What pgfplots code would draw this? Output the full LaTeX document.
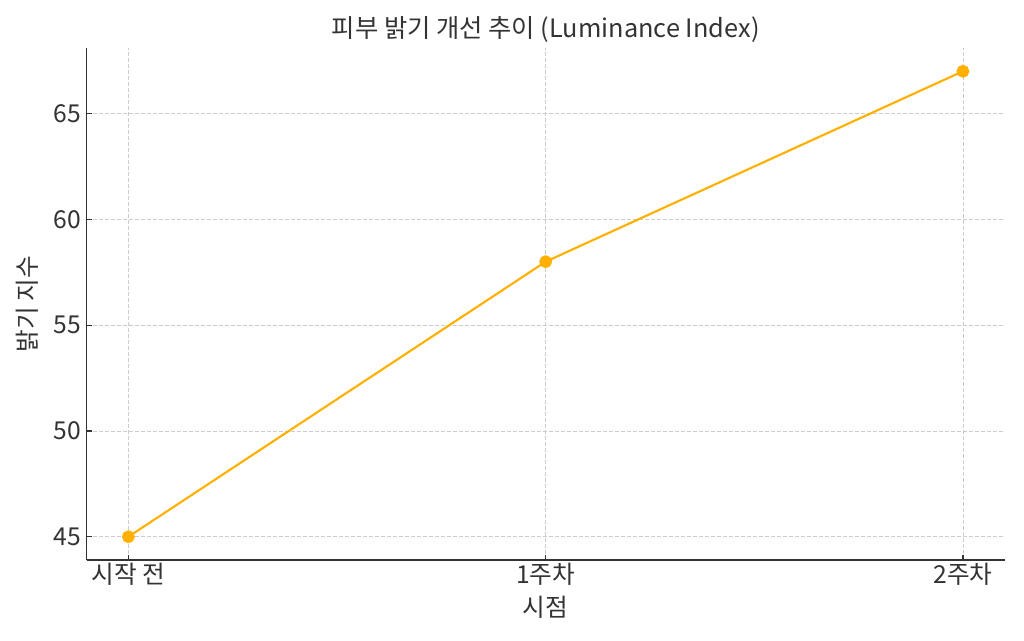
\documentclass[border=0pt]{standalone}
\usepackage{fontspec}
\setmainfont{Noto Sans CJK KR}
\usepackage{pgfplots}
\pgfplotsset{compat=1.18}
\definecolor{lineor}{HTML}{FFB000}
\definecolor{txt}{HTML}{333333}
\definecolor{gridc}{HTML}{CCCCCC}
\newcommand{\fs}{\fontsize{18.5}{22}\selectfont}
\begin{document}
\begin{tikzpicture}
\path[use as bounding box] (-65pt,-60pt) rectangle (703pt,420pt);
\begin{axis}[at={(0,0)}, anchor=south west, scale only axis,
  width=688.5pt, height=384pt,
  xmin=-0.1, xmax=2.1, ymin=43.9, ymax=68.1,
  xtick={0,1,2}, xticklabels={시작 전,1주차,2주차},
  ytick={45,50,55,60,65},
  axis x line*=bottom, axis y line*=left,
  axis line style={-, draw=txt, line width=1.1pt},
  tick align=inside, major tick length=4pt,
  tick style={draw=txt, line width=0.9pt},
  grid=major, grid style={gridc, dash pattern=on 3pt off 1.5pt, line width=0.6pt},
  font=\fs,
  every tick label/.append style={font=\fs, text=txt},
  xticklabel style={inner sep=2pt},
  yticklabel style={inner sep=4pt},
  /pgf/number format/assume math mode=true,
  title={피부 밝기 개선 추이 (Luminance Index)},
  title style={at={(axis description cs:0.5,1.021)}, anchor=center, text=txt, font=\fontsize{19}{22}\selectfont},
  xlabel={시점}, ylabel={밝기 지수},
  xlabel style={at={(axis description cs:0.5,-0.0918)}, anchor=center, text=txt, font=\fs},
  ylabel style={at={(axis description cs:-0.0643,0.5)}, anchor=center, text=txt, font=\fs},
]
\addplot[lineor, line width=1.6pt, mark=*, mark size=4pt, mark options={fill=lineor, draw=lineor}]
  coordinates {(0,45) (1,58) (2,67)};
\end{axis}
\end{tikzpicture}
\end{document}
